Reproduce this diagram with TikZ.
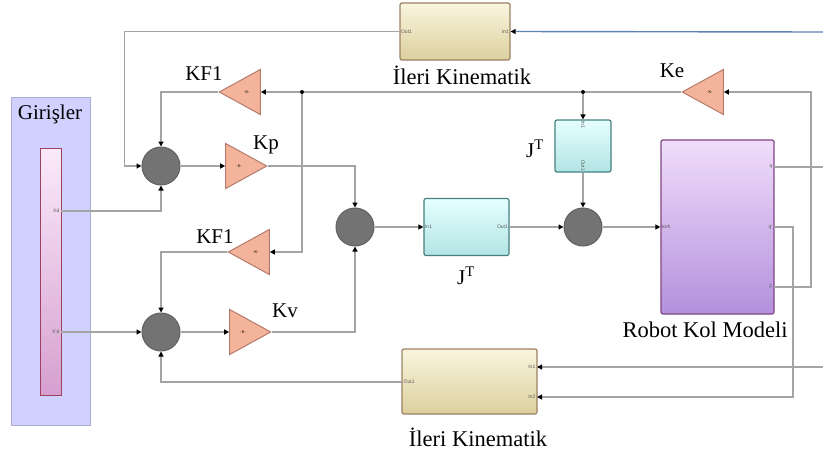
\documentclass[tikz,border=0pt]{standalone}
\usepackage{fontspec}
\setmainfont{Liberation Serif}
\newfontfamily\portfont{Liberation Sans}
\usetikzlibrary{arrows.meta,shapes.geometric}
\definecolor{wiregray}{HTML}{A4A4A4}
\definecolor{wireblue}{HTML}{5F82B4}
\definecolor{gainfill}{HTML}{F4B49C}
\definecolor{gainline}{HTML}{B57A6A}
\definecolor{robottop}{HTML}{F0DDFB}
\definecolor{robotbot}{HTML}{B391DC}
\definecolor{bartop}{HTML}{FAEAFA}
\definecolor{barbot}{HTML}{D6A0D0}
\definecolor{iktop}{HTML}{F9F5DE}
\definecolor{ikbot}{HTML}{DCD09E}
\begin{document}
\begin{tikzpicture}[x=1pt,y=-1pt,
  wire/.style={draw=wiregray, line width=1.4pt},
  sig/.style={wire, -{Triangle[length=5pt,width=5pt,color=black]}},
  sumnode/.style={circle, draw=black!62, fill=black!55, line width=1pt, minimum size=38pt, inner sep=0pt},
  gain/.style={isosceles triangle, isosceles triangle stretches, draw=gainline, fill=gainfill, line width=1pt, minimum width=45pt, minimum height=41pt, inner sep=0pt, font=\portfont\fontsize{4}{5}\selectfont},
  gainR/.style={gain, shape border rotate=0},
  gainL/.style={gain, shape border rotate=180},
  block/.style={draw, rounded corners=2pt, line width=1.2pt},
  lbl/.style={font=\fontsize{21}{24}\selectfont, inner sep=0pt},
  biglbl/.style={font=\fontsize{22.5}{26}\selectfont, inner sep=0pt},
  port/.style={font=\portfont\fontsize{5}{6}\selectfont, text=black!65, inner sep=1.5pt},
  dot/.style={circle, fill=black, inner sep=0pt, minimum size=4pt}]
\useasboundingbox (0,0) rectangle (823,455);
% inputs
\node[draw=blue!30!gray!50, fill=blue!18, line width=1pt, minimum width=79pt, minimum height=328pt] (inputs) at (50.5,261) {};
\node[lbl] (inlabel) at (50,114) {Girişler};
\node[draw=purple!50!gray, top color=bartop, bottom color=barbot, line width=1pt, minimum width=21pt, minimum height=247pt] (bar) at (50.5,271.5) {};
\node[port, anchor=east] (xdlabel) at (61,211) {Xd};
\node[port, anchor=east] (xddlabel) at (61,332) {X'd};
\coordinate (xd) at (61,211);
\coordinate (xdd) at (61,332);
% sums
\node[sumnode] (s1) at (161,166) {};
\node[sumnode] (s2) at (161,332) {};
\node[sumnode] (s3) at (355,227) {};
\node[sumnode] (s4) at (583,227) {};
% gains
\node[gainR, anchor=apex] (kp) at (268,166) {-K-};
\node[gainR, anchor=apex] (kv) at (272,332) {-K-};
\node[gainL, anchor=apex] (kf1a) at (218,92) {-K-};
\node[gainL, anchor=apex] (kf1b) at (227,252) {-K-};
\node[gainL, anchor=apex] (ke) at (681,92) {-K-};
\node[lbl] (kplabel) at (266,145) {Kp};
\node[lbl] (kvlabel) at (285,311) {Kv};
\node[lbl] (kf1alabel) at (204,74) {KF1};
\node[lbl] (kf1blabel) at (215,237) {KF1};
\node[lbl] (kelabel) at (672,71) {Ke};
% blocks
\node[block, draw=brown!45!gray, top color=iktop, bottom color=ikbot, minimum width=110pt, minimum height=57pt] (ik1) at (455,31.5) {};
\node[biglbl] (ik1label) at (462,75) {İleri Kinematik};
\node[block, draw=brown!45!gray, top color=iktop, bottom color=ikbot, minimum width=135pt, minimum height=65pt] (ik2) at (469.5,381.5) {};
\node[biglbl] (ik2label) at (478,437) {İleri Kinematik};
\node[block, draw=teal!45!gray, top color=cyan!10, bottom color=cyan!30!teal!30, minimum width=85pt, minimum height=57pt] (jt1) at (466.5,227) {};
\node[lbl] (jt1label) at (466,276) {J\textsuperscript{T}};
\node[block, draw=teal!45!gray, top color=cyan!10, bottom color=cyan!30!teal!30, minimum width=56pt, minimum height=52pt] (jt2) at (583,146) {};
\node[lbl] (jt2label) at (535,149) {J\textsuperscript{T}};
\node[block, draw=violet!45!gray, top color=robottop, bottom color=robotbot, minimum width=113pt, minimum height=174pt] (robot) at (717.5,227) {};
\node[biglbl] (robotlabel) at (705,330) {Robot Kol Modeli};
% ports
\node[port, anchor=west] at (ik1.west) {Out1};
\node[port, anchor=east] at (ik1.east) {In1};
\node[port, anchor=west] at (402,382) {Out1};
\node[port, anchor=east] at (537,367) {In1};
\node[port, anchor=east] at (537,397) {In2};
\node[port, anchor=west] at (jt1.west) {In1};
\node[port, anchor=east] at (jt1.east) {Out1};
\node[port, anchor=west, rotate=-90] at (jt2.north) {In1};
\node[port, anchor=east, rotate=-90] at (jt2.south) {Out1};
\node[port, anchor=west] at (robot.west) {tork};
\node[port, anchor=east] at (774,167) {q};
\node[port, anchor=east] at (774,227) {q'};
\node[port, anchor=east] at (774,287) {F};
\coordinate (rq) at (774,167);
\coordinate (rqd) at (774,227);
\coordinate (rf) at (774,287);
\coordinate (ik2in1) at (537,367);
\coordinate (ik2in2) at (537,397);
\coordinate (ik2out) at (402,382);
\coordinate (qtop) at (823,32);
\coordinate (qbot) at (823,367);
\coordinate (qout) at (823,167);
\node[dot] (d1) at (302,92) {};
\node[dot] (d2) at (583,92) {};
% connectors
\draw[sig, draw=wireblue] (qtop) -- (ik1.east);
\draw[sig] (ik1.west) -- ++(-275,0) |- (s1.west);
\draw[sig] (kf1a.apex) -| (s1.north);
\draw[sig] (xd) -| (s1.south);
\draw[sig] (s1.east) -- (kp.lower side);
\draw[sig] (kp.apex) -| (s3.north);
\draw[sig] (ke.apex) -- (d2) -- (d1) -- (kf1a.lower side);
\draw[sig] (d1) |- (kf1b.lower side);
\draw[sig] (kf1b.apex) -| (s2.north);
\draw[sig] (xdd) -- (s2.west);
\draw[sig] (s2.east) -- (kv.lower side);
\draw[sig] (kv.apex) -| (s3.south);
\draw[sig] (ik2out) -| (s2.south);
\draw[sig] (s3.east) -- (jt1.west);
\draw[sig] (jt1.east) -- (s4.west);
\draw[sig] (d2) -- (jt2.north);
\draw[sig] (jt2.south) -- (s4.north);
\draw[sig] (s4.east) -- (robot.west);
\draw[wire] (rq) -- (qout);
\draw[sig] (rf) -- ++(37,0) |- (ke.lower side);
\draw[sig] (rqd) -- ++(19,0) |- (ik2in2);
\draw[sig] (qbot) -- (ik2in1);
\end{tikzpicture}
\end{document}
